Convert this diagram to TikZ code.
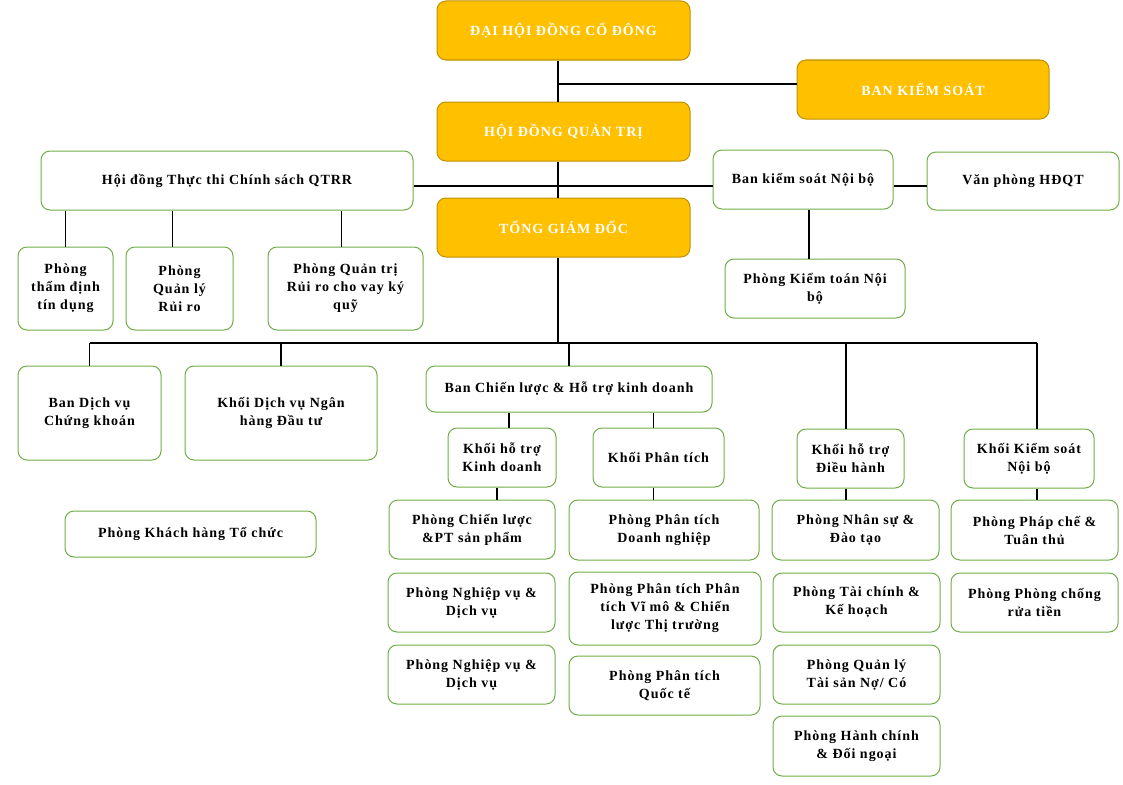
\documentclass[tikz,border=0pt]{standalone}
\usepackage{fontspec}
\setmainfont[LetterSpace=7]{Liberation Serif}
\definecolor{gold}{RGB}{255,192,0}
\definecolor{golddark}{RGB}{191,144,0}
\definecolor{leaf}{RGB}{112,173,71}

\begin{document}
\begin{tikzpicture}[x=1pt,y=-1pt,
    chief/.style={draw=golddark,fill=gold,line width=1,rounded corners=9,text=white,
      font=\bfseries\fontsize{14}{18}\selectfont,align=center,inner sep=0,
      minimum width=253,minimum height=59},
    dept/.style={draw=leaf,fill=white,line width=1,rounded corners=9,
      font=\bfseries\fontsize{14}{18}\selectfont,align=center,inner sep=0},
    wire/.style={line width=1.2}]

      \useasboundingbox (0,0) rectangle (1123,784);

      \node[chief] (dhdcd) at (563.5,30.5) {ĐẠI HỘI ĐỒNG CỔ ĐÔNG};
      \node[chief,minimum width=252] (bks) at (923,89.5) {BAN KIỂM SOÁT};
      \node[chief] (hdqt) at (563.5,131.5) {HỘI ĐỒNG QUẢN TRỊ};
      \node[chief] (tgd) at (563.5,227.5) {TỔNG GIÁM ĐỐC};

      \node[dept,minimum width=372,minimum height=59] (qtrr) at (227,180.5) {Hội đồng Thực thi Chính sách QTRR};
      \node[dept,minimum width=180,minimum height=59] (bksnb) at (803,179.5) {Ban kiểm soát Nội bộ};
      \node[dept,minimum width=192,minimum height=58] (vphdqt) at (1023,181) {Văn phòng HĐQT};
      \node[dept,minimum width=180,minimum height=59] (pktnb) at (815,288.5) {Phòng Kiểm toán Nội\\bộ};

      \node[dept,minimum width=95,minimum height=83] (ptd) at (65.5,288.5) {Phòng\\thẩm định\\tín dụng};
      \node[dept,minimum width=107,minimum height=83] (pqlrr) at (179.5,288.5) {Phòng\\Quản lý\\Rủi ro};
      \node[dept,minimum width=155,minimum height=83] (pqtrr) at (345.5,288.5) {Phòng Quản trị\\Rủi ro cho vay ký\\quỹ};

      \node[dept,minimum width=143,minimum height=94] (bdvck) at (89.5,413) {Ban Dịch vụ\\Chứng khoán};
      \node[dept,minimum width=192,minimum height=94] (kdvnh) at (281,413) {Khối Dịch vụ Ngân\\hàng Đầu tư};
      \node[dept,minimum width=251,minimum height=46] (pkhtc) at (190.5,534) {Phòng Khách hàng Tổ chức};
      \node[dept,minimum width=286,minimum height=46] (bcl) at (569,389) {Ban Chiến lược \& Hỗ trợ kinh doanh};

      \node[dept,minimum width=108,minimum height=59] (khtkd) at (502,457.5) {Khối hỗ trợ\\Kinh doanh};
      \node[dept,minimum width=131,minimum height=59] (kpt) at (658.5,457.5) {Khối Phân tích};
      \node[dept,minimum width=107,minimum height=59] (khtdh) at (850.5,458.5) {Khối hỗ trợ\\Điều hành};
      \node[dept,minimum width=130,minimum height=59] (kksnb) at (1029,458.5) {Khối Kiểm soát\\Nội bộ};

      \node[dept,minimum width=166,minimum height=59] (pcl) at (472,529.5) {Phòng Chiến lược\\\&PT sản phẩm};
      \node[dept,minimum width=167,minimum height=59] (pnv1) at (471.5,602.5) {Phòng Nghiệp vụ \&\\Dịch vụ};
      \node[dept,minimum width=167,minimum height=59] (pnv2) at (471.5,674.5) {Phòng Nghiệp vụ \&\\Dịch vụ};

      \node[dept,minimum width=190,minimum height=60] (pptdn) at (664,530) {Phòng Phân tích\\Doanh nghiệp};
      \node[dept,minimum width=192,minimum height=73] (pptvm) at (665,608.5) {Phòng Phân tích Phân\\tích Vĩ mô \& Chiến\\lược Thị trường};
      \node[dept,minimum width=191,minimum height=59] (pptqt) at (664.5,685.5) {Phòng Phân tích\\Quốc tế};

      \node[dept,minimum width=167,minimum height=60] (pns) at (855.5,530) {Phòng Nhân sự \&\\Đào tạo};
      \node[dept,minimum width=167,minimum height=59] (ptc) at (856.5,602.5) {Phòng Tài chính \&\\Kế hoạch};
      \node[dept,minimum width=167,minimum height=59] (pqlts) at (856.5,674.5) {Phòng Quản lý\\Tài sản Nợ/ Có};
      \node[dept,minimum width=167,minimum height=60] (phc) at (856.5,746) {Phòng Hành chính\\\& Đối ngoại};

      \node[dept,minimum width=167,minimum height=60] (ppc) at (1034.5,530) {Phòng Pháp chế \&\\Tuân thủ};
      \node[dept,minimum width=167,minimum height=59] (ppcrt) at (1034.5,602.5) {Phòng Phòng chống\\rửa tiền};

      \coordinate (hi) at (558,84);
      \coordinate (mid) at (558,186);
      \coordinate (bus) at (558,343);
      \coordinate (q2) at ([xshift=-7]pqlrr.north);
      \coordinate (q3) at ([xshift=-4]pqtrr.north);
      \coordinate (n1) at ([xshift=6]bksnb.south);
      \coordinate (b1) at ([xshift=7]khtkd.north);
      \coordinate (b2) at ([xshift=-5]kpt.north);
      \coordinate (c1) at ([xshift=-5]khtkd.south);
      \coordinate (k3) at ([xshift=-4.5]khtdh.north);
      \coordinate (k4) at ([xshift=8]kksnb.north);

      \draw[wire] (dhdcd.south -| hi) -- (hdqt.north -| hi);
      \draw[wire] (hdqt.south -| hi) -- (tgd.north -| hi);
      \draw[wire] (hi) -- (bks.west |- hi);
      \draw[wire] (qtrr.east |- mid) -- (bksnb.west |- mid);
      \draw[wire] (bksnb.east |- mid) -- (vphdqt.west |- mid);
      \draw[wire] (n1) -- (n1 |- pktnb.north);

      \draw[wire] (ptd.north) -- (ptd.north |- qtrr.south);
      \draw[wire] (q2) -- (q2 |- qtrr.south);
      \draw[wire] (q3) -- (q3 |- qtrr.south);

      \draw[wire] (tgd.south -| bus) -- (bus);
      \draw[wire] (bdvck.north |- bus) -- (k4 |- bus);
      \foreach \n in {bdvck,kdvnh,bcl}
        \draw[wire] (\n.north) -- (\n.north |- bus);
      \draw[wire] (k3) -- (k3 |- bus);
      \draw[wire] (k4) -- (k4 |- bus);

      \draw[wire] (b1) -- (b1 |- bcl.south);
      \draw[wire] (b2) -- (b2 |- bcl.south);
      \draw[wire] (c1) -- (c1 |- pcl.north);
      \draw[wire] (b2 |- kpt.south) -- (b2 |- pptdn.north);
      \draw[wire] (k3 |- khtdh.south) -- (k3 |- pns.north);
      \draw[wire] (k4 |- kksnb.south) -- (k4 |- ppc.north);

    \end{tikzpicture}
\end{document}
